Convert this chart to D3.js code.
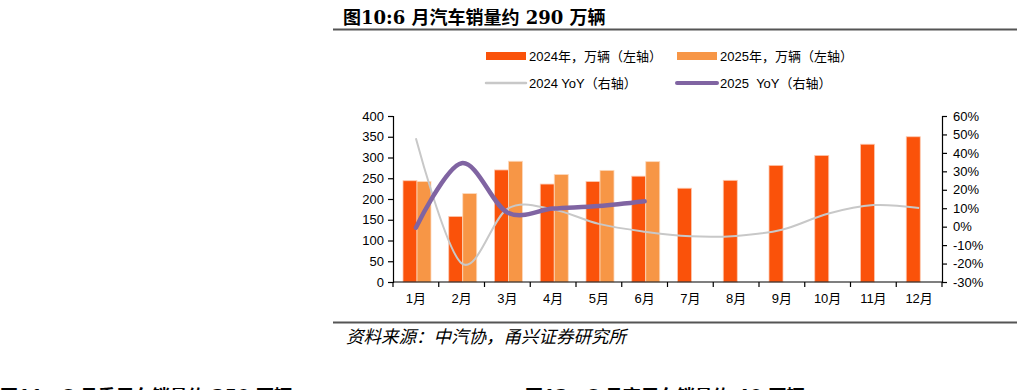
<!DOCTYPE html>
<html>
<head>
<meta charset="utf-8">
<script src="https://cdn.jsdelivr.net/npm/d3@7"></script>
<style>
  body { margin: 0; background: #fff; }
  svg { display: block; }
</style>
</head>
<body>
<div id="chart"></div>
<script>
///// DATA /////
const months = ["1月", "2月", "3月", "4月", "5月", "6月", "7月", "8月", "9月", "10月", "11月", "12月"];
const sales2024 = [244, 158, 270, 236, 242, 255, 226, 245, 281, 305, 332, 350];
const sales2025 = [242, 213, 291, 259, 269, 290];
const yoy2024 = [47.9, -19.9, 9.7, 9.3, 1.5, -2.7, -5.2, -5.0, -1.7, 7.0, 11.7, 10.1];
const yoy2025 = [-0.6, 34.4, 7.7, 9.8, 11.2, 13.8];
const leftTicks = [0, 50, 100, 150, 200, 250, 300, 350, 400];
const rightTicks = [-30, -20, -10, 0, 10, 20, 30, 40, 50, 60];

///// CHART /////
const width = 1017, height = 390;
const c2024 = "#FA520A", c2025 = "#F79646", cGray = "#C8C8C8", cPurple = "#8064A2";
const titleFont = "bold 18px 'DejaVu Serif', 'Noto Sans CJK SC', serif";

const svg = d3.select("#chart").append("svg")
    .attr("width", width)
    .attr("height", height);

// title + rules
svg.append("text")
    .attr("x", 343).attr("y", 24)
    .style("font", titleFont)
    .attr("fill", "#000")
    .text("图10:6 月汽车销量约 290 万辆");
svg.append("rect").attr("x", 333).attr("y", 28.5).attr("width", width - 333).attr("height", 2).attr("fill", "#555");
svg.append("rect").attr("x", 333).attr("y", 321.5).attr("width", width - 333).attr("height", 2).attr("fill", "#555");
svg.append("text")
    .attr("x", 346).attr("y", 343)
    .style("font", "italic 17.5px 'Noto Sans CJK SC', sans-serif")
    .attr("fill", "#000")
    .text("资料来源：中汽协，甬兴证券研究所");

// next figure titles, cut off by the window edge
svg.append("text").attr("x", 0).attr("y", 403)
    .style("font", titleFont)
    .text("图11：6 月乘用车销量约 250 万辆");
svg.append("text").attr("x", 525).attr("y", 403)
    .style("font", titleFont)
    .text("图12：6 月商用车销量约 40 万辆");

// scales
const x = d3.scaleBand().domain(months).range([393, 942]);
const yL = d3.scaleLinear().domain([0, 400]).range([282, 116]);
const yR = d3.scaleLinear().domain([-30, 60]).range([282, 116]);
const barW = 14;
const pairOff = 10; // left edge of first bar within the band

// bars
svg.append("g")
    .selectAll("rect")
    .data(sales2024)
    .join("rect")
    .attr("x", (d, i) => x(months[i]) + pairOff)
    .attr("y", d => yL(d))
    .attr("width", barW)
    .attr("height", d => yL(0) - yL(d))
    .attr("fill", c2024)
    .attr("stroke", "#FCC9B0")
    .attr("stroke-width", 0.8);

svg.append("g")
    .selectAll("rect")
    .data(sales2025)
    .join("rect")
    .attr("x", (d, i) => x(months[i]) + pairOff + barW)
    .attr("y", d => yL(d))
    .attr("width", barW)
    .attr("height", d => yL(0) - yL(d))
    .attr("fill", c2025)
    .attr("stroke", "#FCD9BD")
    .attr("stroke-width", 0.8);

// axes
const axisFont = "13px Arial, 'Liberation Sans', sans-serif";
const gL = svg.append("g")
    .attr("transform", "translate(393,0)")
    .call(d3.axisLeft(yL).tickValues(leftTicks).tickSize(5).tickPadding(4));
const gR = svg.append("g")
    .attr("transform", "translate(942,0)")
    .call(d3.axisRight(yR).tickValues(rightTicks).tickSize(5).tickPadding(6).tickFormat(d => d + "%"));
const gX = svg.append("g")
    .attr("transform", "translate(0,282)")
    .call(d3.axisBottom(x).tickSize(0).tickPadding(12));
[gL, gR, gX].forEach(g => {
    g.select(".domain").attr("stroke", "#000").attr("stroke-width", 1.2);
    g.selectAll("line").attr("stroke", "#000").attr("stroke-width", 1.2);
    g.selectAll("text").style("font", axisFont).attr("fill", "#000");
});
gX.select(".domain").attr("d", "M393,0H942");
gX.selectAll("text").style("font", "13px Arial, 'Noto Sans CJK SC', sans-serif");
// category boundary ticks
svg.append("g")
    .selectAll("line")
    .data(months.concat(["end"]))
    .join("line")
    .attr("x1", (d, i) => 393 + i * x.bandwidth())
    .attr("x2", (d, i) => 393 + i * x.bandwidth())
    .attr("y1", 282).attr("y2", 287)
    .attr("stroke", "#000").attr("stroke-width", 1.2);

// lines
const lineMid = (ys) => d3.line()
    .x((d, i) => x(months[i]) + x.bandwidth() / 2)
    .y(d => yR(d))
    .curve(d3.curveCardinal.tension(0))(ys);

svg.append("path")
    .attr("d", lineMid(yoy2024))
    .attr("fill", "none")
    .attr("stroke", cGray)
    .attr("stroke-width", 2);
svg.append("path")
    .attr("d", lineMid(yoy2025))
    .attr("fill", "none")
    .attr("stroke", cPurple)
    .attr("stroke-width", 4.5)
    .attr("stroke-linecap", "round");

// legend
const legend = [
    { label: "2024年，万辆（左轴）", type: "rect", color: c2024, x: 486, y: 56 },
    { label: "2025年，万辆（左轴）", type: "rect", color: c2025, x: 677, y: 56 },
    { label: "2024 YoY（右轴）", type: "line", color: cGray, w: 2.5, x: 486, y: 83 },
    { label: "2025\u00a0\u00a0YoY（右轴）", type: "line", color: cPurple, w: 4, x: 677, y: 83 }
];
const lg = svg.append("g").selectAll("g").data(legend).join("g");
lg.filter(d => d.type === "rect").append("rect")
    .attr("x", d => d.x).attr("y", d => d.y - 4)
    .attr("width", 40).attr("height", 8)
    .attr("fill", d => d.color);
lg.filter(d => d.type === "line").append("line")
    .attr("x1", d => d.x).attr("x2", d => d.x + 40)
    .attr("y1", d => d.y).attr("y2", d => d.y)
    .attr("stroke", d => d.color)
    .attr("stroke-width", d => d.w)
    .attr("stroke-linecap", "round");
lg.append("text")
    .attr("x", d => d.x + 43)
    .attr("y", d => d.y)
    .attr("dy", "0.36em")
    .style("font", "13px Arial, 'Noto Sans CJK SC', sans-serif")
    .attr("fill", "#000")
    .text(d => d.label);
</script>
</body>
</html>
